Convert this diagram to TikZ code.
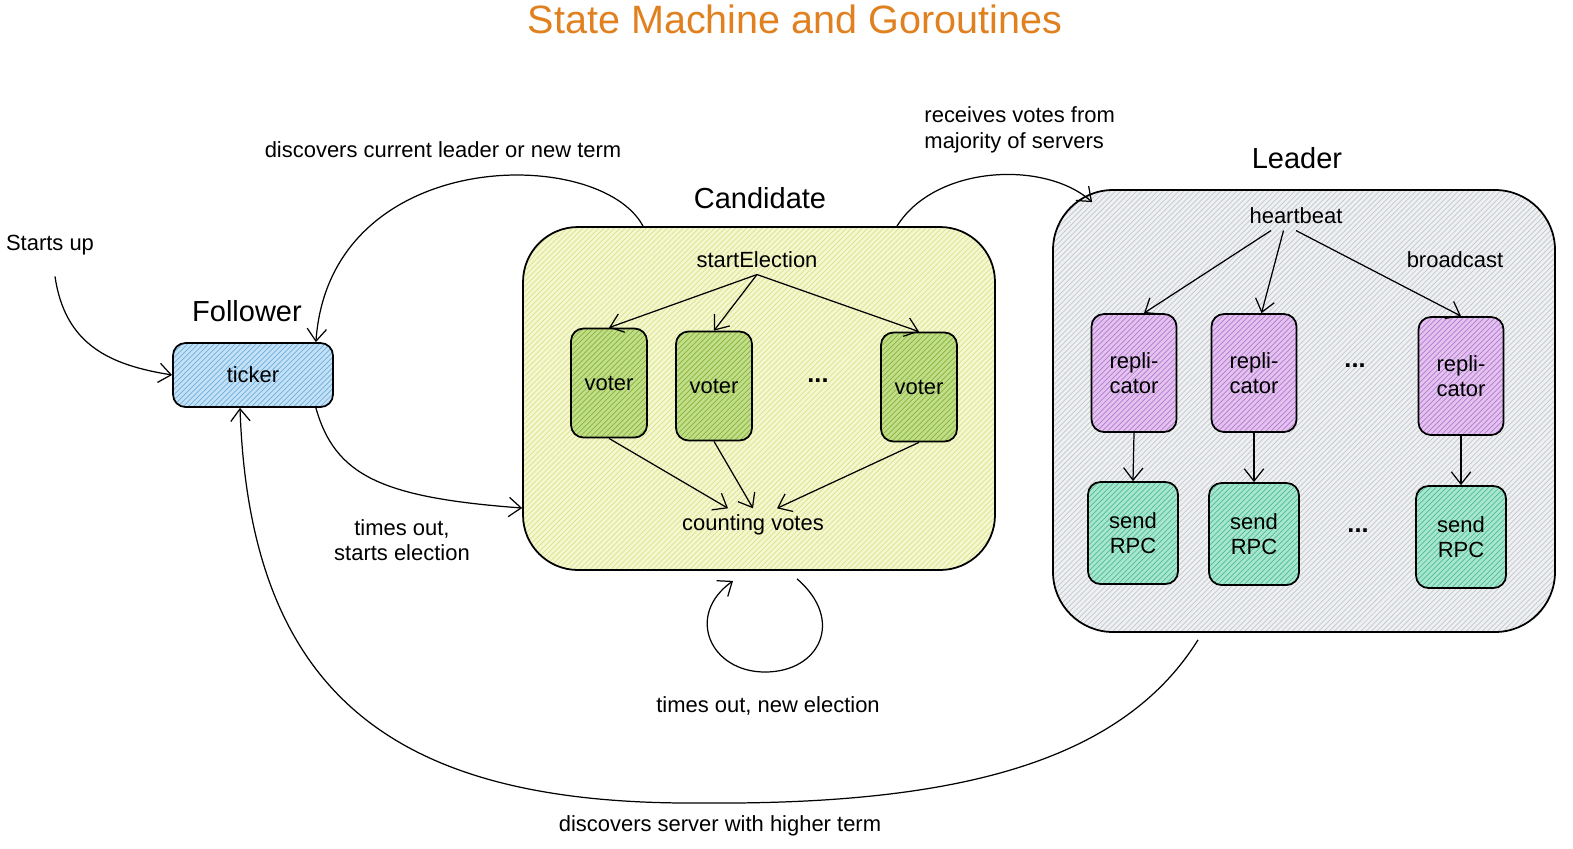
\documentclass[tikz,border=0pt]{standalone}
\usepackage{fontspec}
\setmainfont{Liberation Sans}
\usepackage{xcolor}
\usepackage{tikz}
\usetikzlibrary{arrows.meta,patterns}
\definecolor{titolo}{HTML}{E0801F}
\definecolor{tickfill}{HTML}{C4E2F7}
\definecolor{tickline}{HTML}{6FAEDB}
\definecolor{candfill}{HTML}{F4F7CF}
\definecolor{candline}{HTML}{D8E38C}
\definecolor{votfill}{HTML}{C2DE8A}
\definecolor{votline}{HTML}{86B43A}
\definecolor{leadfill}{HTML}{EEF0F2}
\definecolor{leadline}{HTML}{C3C8CE}
\definecolor{repfill}{HTML}{E2C4EE}
\definecolor{repline}{HTML}{B877D4}
\definecolor{rpcfill}{HTML}{A9E6CF}
\definecolor{rpcline}{HTML}{4DBE95}
\newcommand{\grande}{\fontsize{16.5}{19}\selectfont}

\begin{document}
\begin{tikzpicture}[>={Straight Barb[length=7pt,width=11pt]},
  font=\fontsize{12.5}{14.5}\selectfont,
  every path/.style={line width=0.7pt},
  box/.style={draw,line width=1pt,rounded corners=0.25cm,align=center,inner sep=0pt},
  hatch/.style 2 args={preaction={fill=#1},pattern=north east lines,pattern color=#2},
  punti/.style={font=\Large\bfseries}]
  \useasboundingbox (0,0) rectangle (31.46,-16.96);
  \node[font=\fontsize{22.5}{26}\selectfont,text=titolo] (tit) at (15.9,-0.38) {State Machine and Goroutines};
  \node (avvio) at (1.0,-4.9) {Starts up};
  \node[font=\grande] (lfoll) at (4.94,-6.22) {Follower};
  \node[box,hatch={tickfill}{tickline},minimum width=3.2cm,minimum height=1.28cm] (tick) at (5.06,-7.5) {ticker};
  \node[box,rounded corners=1.1cm,hatch={candfill}{candline},minimum width=9.44cm,minimum height=6.86cm] (cand) at (15.18,-7.97) {};
  \node[font=\grande] (lcand) at (15.2,-3.96) {Candidate};
  \node (start) at (15.14,-5.2) {startElection};
  \foreach \n/\x/\y in {v1/12.18/-7.66,v2/14.28/-7.72,v3/18.38/-7.74}
    \node[box,hatch={votfill}{votline},minimum width=1.52cm,minimum height=2.18cm] (\n) at (\x,\y) {voter};
  \node[punti] (pv) at (16.36,-7.62) {...};
  \node (count) at (15.06,-10.5) {counting votes};
  \foreach \n in {v1,v2,v3} \draw[->] (start.south) -- (\n.north);
  \foreach \n/\d in {v1/-0.5,v2/0,v3/0.48} \draw[->] (\n.south) -- ([xshift=\d cm]count.north);
  \node[box,rounded corners=1.2cm,hatch={leadfill}{leadline},minimum width=10.04cm,minimum height=8.84cm] (lead) at (26.08,-8.22) {};
  \node[font=\grande] (llead) at (25.94,-3.16) {Leader};
  \node (hb) at (25.92,-4.32) {heartbeat};
  \node (bc) at (29.1,-5.2) {broadcast};
  \foreach \n/\x/\y in {r1/22.68/-7.46,r2/25.08/-7.46,r3/29.22/-7.52}
    \node[box,hatch={repfill}{repline},minimum width=1.7cm,minimum height=2.36cm] (\n) at (\x,\y) {repli-\\cator};
  \foreach \n/\x/\y in {s1/22.66/-10.66,s2/25.08/-10.68,s3/29.22/-10.74}
    \node[box,hatch={rpcfill}{rpcline},minimum width=1.8cm,minimum height=2.04cm] (\n) at (\x,\y) {send\\RPC};
  \node[punti] (pr) at (27.1,-7.32) {...};
  \node[punti] (ps) at (27.16,-10.62) {...};
  \draw[->] ([xshift=-0.5cm]hb.south) -- ([xshift=0.2cm]r1.north);
  \draw[->] ([xshift=-0.25cm]hb.south) -- ([xshift=0.15cm]r2.north);
  \draw[->] (hb.south) -- (r3.north);
  \foreach \i in {1,2,3} \draw[->] (r\i.south) -- (s\i.north);
  \draw[->] ([xshift=0.1cm,yshift=-0.3cm]avvio.south) .. controls (1.3,-6.9) and (2.2,-7.3) .. (tick.west);
  \draw[->] ([xshift=-2.32cm]cand.north) .. controls (12.0,-2.9) and (6.6,-2.9) .. ([xshift=-0.36cm]tick.north east);
  \draw[->] ([xshift=-0.36cm]tick.south east) .. controls (6.7,-9.5) and (7.6,-9.95) .. ([yshift=-2.19cm]cand.west);
  \draw[->] ([xshift=2.76cm]cand.north) .. controls (18.7,-3.3) and (20.9,-3.2) .. ([xshift=0.8cm,yshift=-0.26cm]lead.north west);
  \draw[->] ([xshift=0.76cm,yshift=-0.16cm]cand.south) .. controls (16.9,-12.4) and (16.4,-13.44) .. (15.3,-13.44)
    .. controls (14.2,-13.44) and (13.7,-12.3) .. ([xshift=-0.52cm,yshift=-0.2cm]cand.south);
  \draw[->] ([xshift=-2.12cm,yshift=-0.14cm]lead.south) .. controls (22.4,-15.3) and (19,-16.1) .. (14,-16.06)
    .. controls (8,-16.1) and (5,-14) .. ([xshift=-0.26cm]tick.south);
  \node (et1) at (8.86,-3.0) {discovers current leader or new term};
  \node[align=center] (et2) at (8.04,-10.8) {times out,\\starts election};
  \node[align=left,anchor=west] (et3) at (18.36,-2.6) {receives votes from\\majority of servers};
  \node (et4) at (15.36,-14.12) {times out, new election};
  \node (et5) at (14.4,-16.52) {discovers server with higher term};
\end{tikzpicture}
\end{document}
